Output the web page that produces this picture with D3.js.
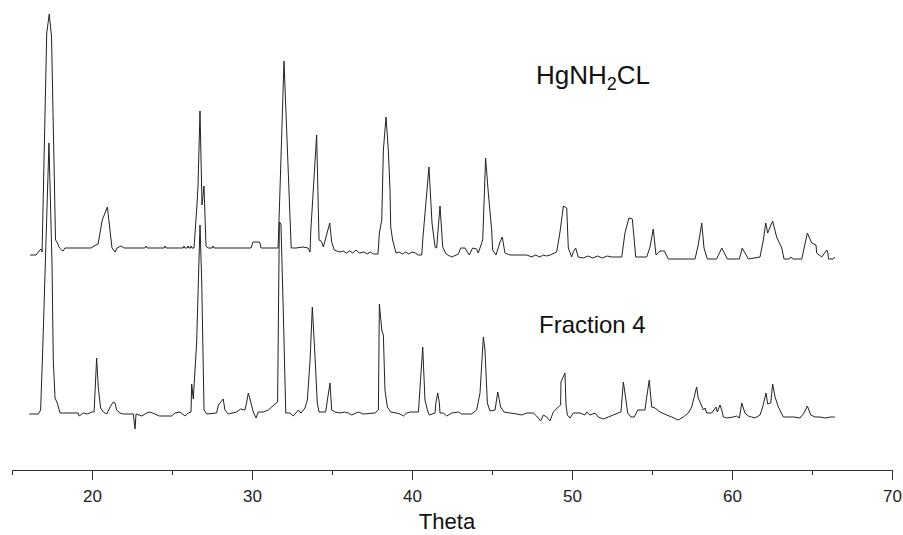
<!DOCTYPE html>
<html>
<head>
<meta charset="utf-8">
<script src="https://cdn.jsdelivr.net/npm/d3@7"></script>
<style>
  body { margin: 0; background: #fff; }
  svg { display: block; }
  .trace { fill: none; stroke: #222; stroke-width: 1; stroke-linejoin: round; }
  .axis path, .axis line { stroke: #333; }
  .axis text { font-family: "Liberation Sans Narrow", "Liberation Sans", Arial, sans-serif; font-size: 17px; fill: #222; }
  .label { font-family: "Liberation Sans", Arial, sans-serif; fill: #111; }
</style>
</head>
<body>
<svg id="chart" width="903" height="535"></svg>
<script>
  // 2-theta positions and intensities (above each pattern's own baseline)
  const hgTheta = [16.13, 16.5, 16.69, 16.81, 16.88, 17.17, 17.33, 17.47, 17.72, 17.81, 17.97, 18.1, 18.19, 18.31,
    19.94, 20.13, 20.38, 20.64, 20.96, 21.25, 21.44, 21.56, 21.81, 22.0, 23.3, 23.38, 23.45, 24.5, 24.56, 24.63,
    25.7, 25.75, 25.8, 25.95, 26.0, 26.05, 26.15, 26.19, 26.25, 26.375, 26.56, 26.625, 26.75, 26.875, 27.0,
    27.125, 27.25, 27.5, 27.56, 27.63, 29.94, 30.06, 30.44, 30.5, 30.56, 31.63, 31.69, 32.0, 32.45, 32.75, 33.19,
    33.5, 33.63, 33.67, 34.04, 34.19, 34.31, 34.38, 34.46, 34.86, 34.98, 35.14, 35.3, 35.5, 35.7, 35.9, 36.1,
    36.3, 36.5, 36.7, 37.0, 37.2, 37.4, 37.6, 37.875, 37.96, 38.11, 38.21, 38.375, 38.52, 38.625, 38.67, 38.79,
    39.0, 39.2, 39.4, 39.6, 39.8, 40.0, 40.2, 40.4, 40.61, 40.67, 41.06, 41.25, 41.44, 41.54, 41.75, 41.92,
    42.125, 42.48, 42.9, 43.04, 43.31, 43.58, 43.79, 44.04, 44.14, 44.42, 44.6, 44.77, 44.98, 45.04, 45.25,
    45.5, 45.64, 45.81, 46.125, 47.17, 47.5, 47.7, 48.0, 48.2, 48.4, 48.63, 49.04, 49.25, 49.46, 49.67, 49.77,
    49.98, 50.08, 50.23, 50.39, 50.7, 51.0, 51.3, 51.6, 51.9, 52.2, 52.5, 52.8, 53.11, 53.31, 53.56, 53.77,
    53.89, 53.98, 54.67, 54.875, 55.08, 55.25, 55.5, 55.77, 56.02, 57.69, 57.89, 58.11, 58.25, 58.46, 59.04,
    59.36, 59.71, 60.46, 60.64, 61.02, 61.75, 61.96, 62.11, 62.23, 62.54, 62.79, 63.11, 63.25, 63.58, 63.67,
    63.83, 64.36, 64.71, 64.98, 65.25, 65.29, 65.61, 65.92, 65.98, 66.04, 66.33, 66.44];
  const hgIntensity = [-7, -7, -3, -1, -4, 215, 234, 211, 8, 6, 0, -2, -3, 0,
    0, 2, 4, 28, 41, 0, -4, 0, 2, 0, 0, 2, 0, 0, 2, 0,
    0, 2, 0, 0, 2, 0, 0, 2, 0, 0, 43, 62, 137, 43, 62,
    2, 0, 0, 2, 0, 0, 6, 6, 5, 0, 0, 28, 187, 0, 0, 1,
    0, -4, 16, 113, 8, 7, 5, 1, 25, 6, -2, -3, -4, -3, -5, -3,
    -5, -2, -5, -4, -6, -4, -6, -6, 15, 28, 98, 131, 98, 58, 21, 8,
    -5, -4, -6, -4, -6, -4, -5, -7, -7, 8, 81, 25, 1, 0, 42, 1,
    -6, -9, -6, 0, 0, -7, 0, -1, -5, 8, 90, 55, 18, -2, -7,
    6, 11, -5, -7, -7, -9, -7, -9, -7, -8, -7, -4, 16, 42, 40, 0,
    -9, -4, 0, -9, -10, -8, -10, -8, -10, -8, -9, -9, -9, 15, 30, 29,
    8, -9, -9, 1, 19, -7, -3, -3, -11, -11, 3, 25, 0, -11, -11,
    0, -11, -11, 0, -11, -9, 8, 25, 15, 27, 11, 0, -11, -11, -9,
    -11, -11, 15, 5, 3, -5, -9, -2, -4, -11, -11, -9];

  const frTheta = [16.08, 16.64, 16.79, 16.92, 17.31, 17.5, 17.58, 17.69, 17.83, 18.0, 19.14, 19.2, 19.46, 19.7,
    19.98, 20.13, 20.29, 20.39, 20.54, 20.71, 20.92, 21.13, 21.33, 21.44, 21.54, 21.75, 21.96, 22.58, 22.69,
    22.75, 23.11, 23.42, 23.63, 23.94, 24.21, 24.98, 25.19, 25.5, 25.81, 26.02, 26.19, 26.23, 26.33, 26.54,
    26.75, 26.86, 27.0, 27.17, 27.79, 27.9, 28.2, 28.31, 28.52, 29.04, 29.29, 29.56, 29.67, 29.77, 29.92,
    30.08, 30.25, 30.39, 30.71, 31.02, 31.23, 31.44, 31.6, 31.71, 31.81, 31.96, 32.11, 32.38, 32.58, 32.9,
    33.06, 33.31, 33.46, 33.63, 33.77, 33.94, 34.08, 34.19, 34.6, 34.875, 34.98, 35.19, 35.5, 35.77, 36.02,
    36.23, 36.64, 36.96, 37.69, 37.9, 37.96, 38.11, 38.21, 38.31, 38.46, 38.67, 39.0, 39.25, 39.46, 39.67,
    39.875, 40.4, 40.67, 40.81, 40.96, 41.08, 41.44, 41.5, 41.61, 41.71, 41.75, 41.96, 42.17, 42.48, 42.9,
    43.1, 43.73, 44.04, 44.25, 44.46, 44.56, 44.71, 44.875, 45.19, 45.36, 45.54, 45.75, 46.125, 46.54, 46.86,
    47.17, 47.58, 47.79, 48.04, 48.21, 48.42, 48.625, 48.83, 49.14, 49.29, 49.31, 49.56, 49.625, 49.71, 49.875,
    50.08, 50.5, 50.81, 50.92, 51.125, 51.44, 51.64, 51.96, 52.27, 52.58, 52.89, 53.06, 53.21, 53.31, 53.48,
    53.69, 53.89, 54.11, 54.56, 54.67, 54.83, 54.98, 55.19, 55.5, 55.92, 56.23, 56.64, 56.96, 57.27, 57.48,
    57.79, 57.89, 58.0, 58.21, 58.31, 58.42, 58.73, 59.0, 59.08, 59.25, 59.36, 59.46, 59.67, 60.08, 60.29,
    60.46, 60.61, 60.81, 61.02, 61.23, 61.44, 61.75, 61.92, 62.125, 62.23, 62.42, 62.54, 62.69, 62.9, 63.21,
    63.46, 63.875, 64.25, 64.5, 64.71, 64.92, 65.19, 65.5, 65.81, 66.17, 66.33, 66.44];
  const frIntensity = [0, 0, 4, 64, 271, 150, 54, 16, 11, 1, 1, -2, 1, 0,
    2, 2, 56, 27, 6, 2, 0, 7, 12, 11, 4, 1, 0, 0, -15,
    0, -2, 1, 2, 0, -2, -2, 1, 2, -2, 1, 2, 30, 15, 71,
    189, 131, 4, 0, 1, 9, 15, 4, 0, 2, 5, 4, 12, 21, 12,
    2, -4, 2, 2, 4, 7, 10, 12, 192, 190, 100, 1, 1, -2, 4,
    1, 6, 14, 54, 107, 57, 11, 2, 2, 31, 4, 2, 1, 2, 1,
    -1, 2, 0, 1, 4, 110, 84, 79, 24, 7, 2, 1, 0, -2, 1,
    2, 2, 67, 14, 4, -1, 1, 12, 21, 11, 1, 1, -2, 1, 2,
    0, 0, 4, 21, 77, 64, 11, 3, 4, 22, 7, 2, 1, 0, -1,
    1, 1, -2, -7, -1, -3, -7, 2, 7, 9, 32, 41, 9, -1, -4,
    1, 1, -1, 2, -1, 1, -3, -5, -3, -1, 1, 2, 32, 21, 1,
    -3, -3, 4, 4, 17, 34, 7, 6, 2, -1, -3, -6, -3, 1, 7,
    27, 16, 12, 4, 6, 1, 1, 7, 2, 9, 4, -3, -4, -3, -2,
    -4, 11, 1, -2, -3, -4, -1, 7, 21, 10, 11, 30, 17, 7, -3,
    -3, -3, -4, 1, 8, -1, -3, -3, -4, -3, -3, -3];

  const seriesNames = ['HgNH\u2082CL', 'Fraction 4'];
  const stackOffset = 166; // upper pattern is shifted up by this many intensity units
  const majorTicks = [20, 30, 40, 50, 60, 70];
  const minorTicks = [15, 25, 35, 45, 55, 65];

  const svg = d3.select('#chart');

  const x = d3.scaleLinear().domain([15, 70]).range([12, 892]);
  const y = d3.scaleLinear().domain([0, 414]).range([414, 0]);

  const hgData = hgTheta.map((t, i) => ({ t, v: hgIntensity[i] + stackOffset }));
  const frData = frTheta.map((t, i) => ({ t, v: frIntensity[i] }));

  const line = d3.line()
    .x((d) => x(d.t))
    .y((d) => y(d.v));

  svg.append('path').datum(hgData).attr('class', 'trace').attr('d', line);
  svg.append('path').datum(frData).attr('class', 'trace').attr('d', line);

  // axis
  const axisY = 470;
  svg.append('g')
    .attr('class', 'axis')
    .attr('transform', `translate(0,${axisY})`)
    .call(d3.axisBottom(x).tickValues(minorTicks).tickSize(5).tickSizeOuter(0).tickFormat(''));
  svg.append('g')
    .attr('class', 'axis')
    .attr('transform', `translate(0,${axisY})`)
    .call(d3.axisBottom(x).tickValues(majorTicks).tickSize(10).tickSizeOuter(0).tickPadding(10))
    .call((g) => g.select('.domain').remove());

  svg.append('text')
    .attr('class', 'label')
    .attr('x', 447)
    .attr('y', 529)
    .attr('text-anchor', 'middle')
    .style('font-size', '22px')
    .text('Theta');

  // pattern labels
  const hgLabel = svg.append('text')
    .attr('class', 'label')
    .attr('x', 536)
    .attr('y', 84)
    .style('font-size', '26px');
  hgLabel.append('tspan').text('HgNH');
  hgLabel.append('tspan').attr('dy', 6).style('font-size', '18px').text('2');
  hgLabel.append('tspan').attr('dy', -6).text('CL');

  svg.append('text')
    .attr('class', 'label')
    .attr('x', 539)
    .attr('y', 333)
    .style('font-size', '24px')
    .text(seriesNames[1]);
</script>
</body>
</html>
